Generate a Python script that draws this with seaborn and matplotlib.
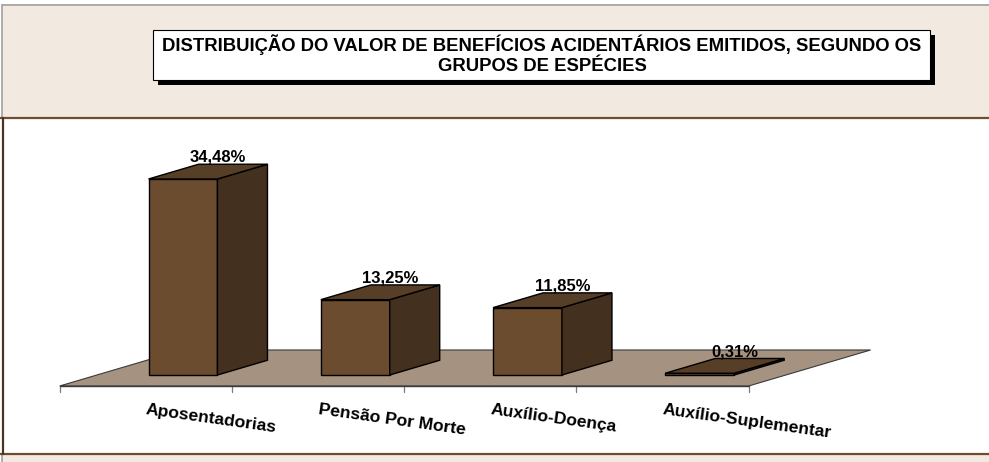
import matplotlib
matplotlib.use("Agg")
import matplotlib.pyplot as plt
import seaborn as sns
import numpy as np
import pandas as pd
from matplotlib.patches import Polygon, Rectangle
from matplotlib.lines import Line2D
from matplotlib.transforms import IdentityTransform

# ---- data -------------------------------------------------------------
categories = ["Aposentadorias", "Pensão Por Morte", "Auxílio-Doença", "Auxílio-Suplementar"]
values = [34.48, 13.25, 11.85, 0.31]
value_labels = ["34,48%", "13,25%", "11,85%", "0,31%"]
title_lines = [
    "DISTRIBUIÇÃO DO VALOR DE BENEFÍCIOS ACIDENTÁRIOS EMITIDOS, SEGUNDO OS",
    "GRUPOS DE ESPÉCIES",
]

# ---- style ------------------------------------------------------------
W, H = 989, 462
BEIGE = "#F2E9E0"
FLOOR = "#A69280"
FRONT = "#6B4C2E"
SIDE = "#43301F"
TOP = "#573E26"
FRAME_BROWN = "#6E4E2E"
DARK_BROWN = "#4A3520"

sns.set_theme(style="white")
plt.rcParams["font.family"] = ["Liberation Sans", "DejaVu Sans"]

fig = plt.figure(figsize=(W / 100, H / 100), dpi=100, facecolor=BEIGE)


def fx(px):
    return px / W


def fy(py):
    return 1 - py / H


# white margin along the top and left edges
fig.add_artist(Rectangle((0, fy(4)), 1, 4 / H, transform=fig.transFigure,
                         facecolor="white", edgecolor="none", zorder=-3))
fig.add_artist(Rectangle((0, 0), fx(1.5), 1, transform=fig.transFigure,
                         facecolor="white", edgecolor="none", zorder=-3))

# white plotting panel and its frame
fig.add_artist(Rectangle((fx(2), fy(454)), fx(987), (454 - 118) / H,
                         transform=fig.transFigure, facecolor="white",
                         edgecolor="none", zorder=-2))
for (x0, y0, x1, y1, c, lw) in [
    (1.5, 4.5, W, 4.5, "#A0A0A0", 1.2),
    (2, 4.5, 2, 117, "#A0A0A0", 1.2),
    (2, 455, 2, H, "#A0A0A0", 1.2),
    (0, 118, W, 118, FRAME_BROWN, 1.6),
    (0, 454, W, 454, FRAME_BROWN, 1.6),
    (2.5, 118, 2.5, 454, DARK_BROWN, 1.6),
]:
    fig.add_artist(Line2D([fx(x0), fx(x1)], [fy(y0), fy(y1)],
                          transform=fig.transFigure, color=c, lw=lw))

# title box with drop shadow
fig.add_artist(Rectangle((fx(158), fy(85)), (935 - 158) / W, (85 - 35) / H,
                         transform=fig.transFigure, facecolor="black",
                         edgecolor="none", zorder=3))
fig.add_artist(Rectangle((fx(153), fy(80)), (930 - 153) / W, (80 - 30) / H,
                         transform=fig.transFigure, facecolor="white",
                         edgecolor="black", lw=0.8, zorder=4))
fig.text(fx(542), fy(51), title_lines[0], ha="center", va="baseline",
         fontsize=13.3, fontweight="bold", color="black", zorder=5)
fig.text(fx(542), fy(71), title_lines[1], ha="center", va="baseline",
         fontsize=13.3, fontweight="bold", color="black", zorder=5)

# ---- bar chart ---------------------------------------------------------
ax = fig.add_axes([fx(45.2), fy(397.74), 861.25 / W, 250.14 / H])
df = pd.DataFrame({"categoria": categories, "valor": values})
sns.barplot(data=df, x="categoria", y="valor", color=FRONT, saturation=1,
            width=0.4, edgecolor="black", linewidth=1.0, ax=ax, zorder=2)
ax.set_xlim(-0.8, 4.2)
ax.set_ylim(-4, 40)
ax.axis("off")
ax.patch.set_alpha(0)

T = ax.transData.transform
D = np.array([122.0, 36.0])   # depth of the floor, display pixels
F0 = 0.305                   # bar front position within the floor depth
B = 0.41 * D                 # depth of each bar
ident = IdentityTransform()

# floor
fl = T((-0.5, 0)) - F0 * D
fr = T((len(categories) - 0.5, 0)) - F0 * D
floor = Polygon([fl, fr, fr + D, fl + D], closed=True, transform=ident,
                facecolor=FLOOR, edgecolor="#3A3A3A", lw=0.8, zorder=0.5,
                clip_on=False)
ax.add_patch(floor)

# category ticks along the front edge of the floor
for k in range(len(categories) + 1):
    p = T((k - 0.5, 0)) - F0 * D
    ax.add_line(Line2D([p[0], p[0]], [p[1], p[1] - 6], transform=ident,
                       color="#7A7A7A", lw=0.9, clip_on=False, zorder=0.6))
ax.add_line(Line2D([fl[0], fr[0]], [fl[1], fr[1]], transform=ident,
                   color="#3A3A3A", lw=1.0, clip_on=False, zorder=0.7))

# side and top faces of each bar
for rect in ax.containers[0]:
    x0, w, h = rect.get_x(), rect.get_width(), rect.get_height()
    br, tr, tl = T((x0 + w, 0)), T((x0 + w, h)), T((x0, h))
    ax.add_patch(Polygon([br, br + B, tr + B, tr], closed=True, transform=ident,
                         facecolor=SIDE, edgecolor="black", lw=1.0,
                         zorder=2, clip_on=False))
    ax.add_patch(Polygon([tl, tr, tr + B, tl + B], closed=True, transform=ident,
                         facecolor=TOP, edgecolor="black", lw=1.0,
                         zorder=2, clip_on=False))

# value labels above each bar
for i, (v, lbl) in enumerate(zip(values, value_labels)):
    ax.annotate(lbl, xy=(i, v), xytext=(35, 17), textcoords="offset pixels",
                ha="center", va="baseline", fontsize=12, fontweight="bold",
                color="black", zorder=5)

# slanted category labels below the floor
for i, cat in enumerate(categories):
    ax.annotate(cat, xy=(i, 0), xytext=(-37, -35), textcoords="offset pixels",
                ha="left", va="center", rotation=-8, rotation_mode="anchor",
                fontsize=12.6, fontweight="bold", color="black", zorder=5)

fig.savefig("out.png", dpi=100, facecolor=fig.get_facecolor())
